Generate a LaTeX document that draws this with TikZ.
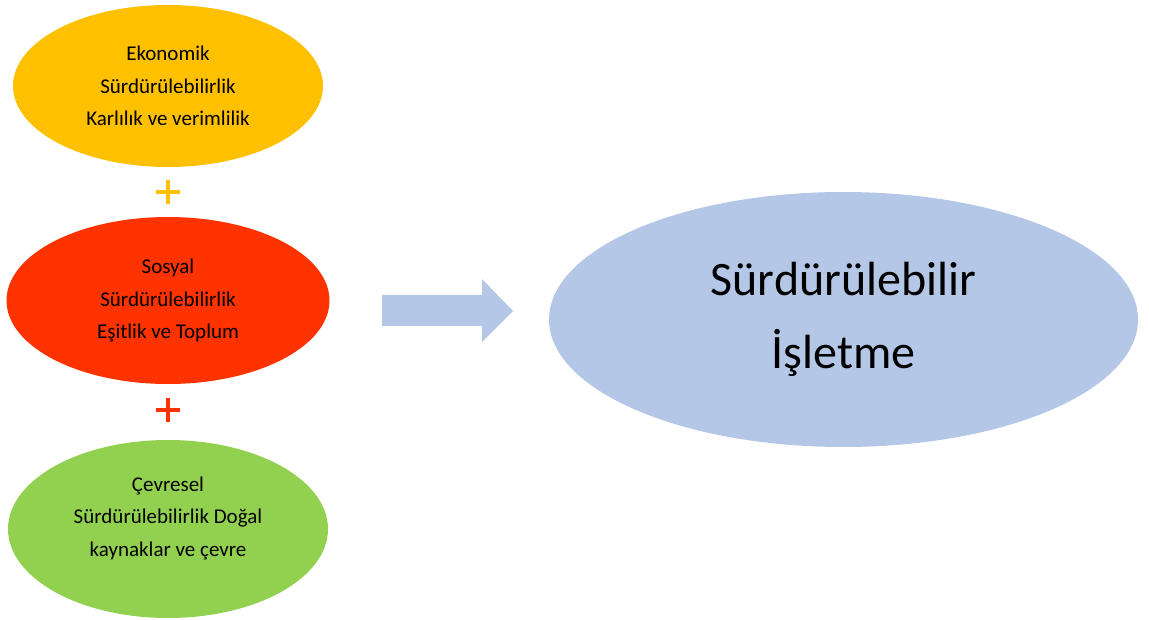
\documentclass[tikz,border=0pt]{standalone}
\usepackage{fontspec}
\setmainfont{Carlito}
\usetikzlibrary{shapes.geometric}
\definecolor{ekonomi}{HTML}{FFC000}
\definecolor{sosyal}{HTML}{FF3300}
\definecolor{cevre}{HTML}{92D050}
\definecolor{isletme}{HTML}{B4C7E7}
\tikzset{P node/.style={ellipse,draw=none,inner sep=0pt,align=center,font=\fontsize{21}{32.5}\selectfont},
	plus sign/.style={line width=4.5pt},}

\begin{document}
\begin{tikzpicture}[x=1pt,y=1pt]
			\useasboundingbox (0,0) rectangle (1149,619);

			\node[P node, fill=ekonomi, minimum width=310, minimum height=162] (eko) at (168, 533) {Ekonomik\\Sürdürülebilirlik\\Karlılık ve verimlilik};
			\node[P node, fill=sosyal, minimum width=323, minimum height=167] (sos) at (168, 318.5) {Sosyal\\Sürdürülebilirlik\\Eşitlik ve Toplum};
			\node[P node, fill=cevre, minimum width=320, minimum height=178] (cev) at (168, 90) {};
			\node[P node] (cevtext) at ([yshift=11]cev.center) {Çevresel\\Sürdürülebilirlik Doğal\\kaynaklar ve çevre};

			\draw[plus sign, ekonomi] (156, 427) -- (180, 427) (168, 415) -- (168, 439);
			\draw[plus sign, sosyal] (156, 209) -- (180, 209) (168, 197) -- (168, 221);

			\fill[isletme] (382, 324) -- (482, 324) -- (482, 340) -- (513, 308)
				-- (482, 277) -- (482, 293) -- (382, 293) -- cycle;

			\node[P node, fill=isletme, minimum width=589, minimum height=255, font=\fontsize{48}{73}\selectfont] (isl) at (843.5, 299.5) {Sürdürülebilir\\İşletme};
		\end{tikzpicture}
\end{document}
